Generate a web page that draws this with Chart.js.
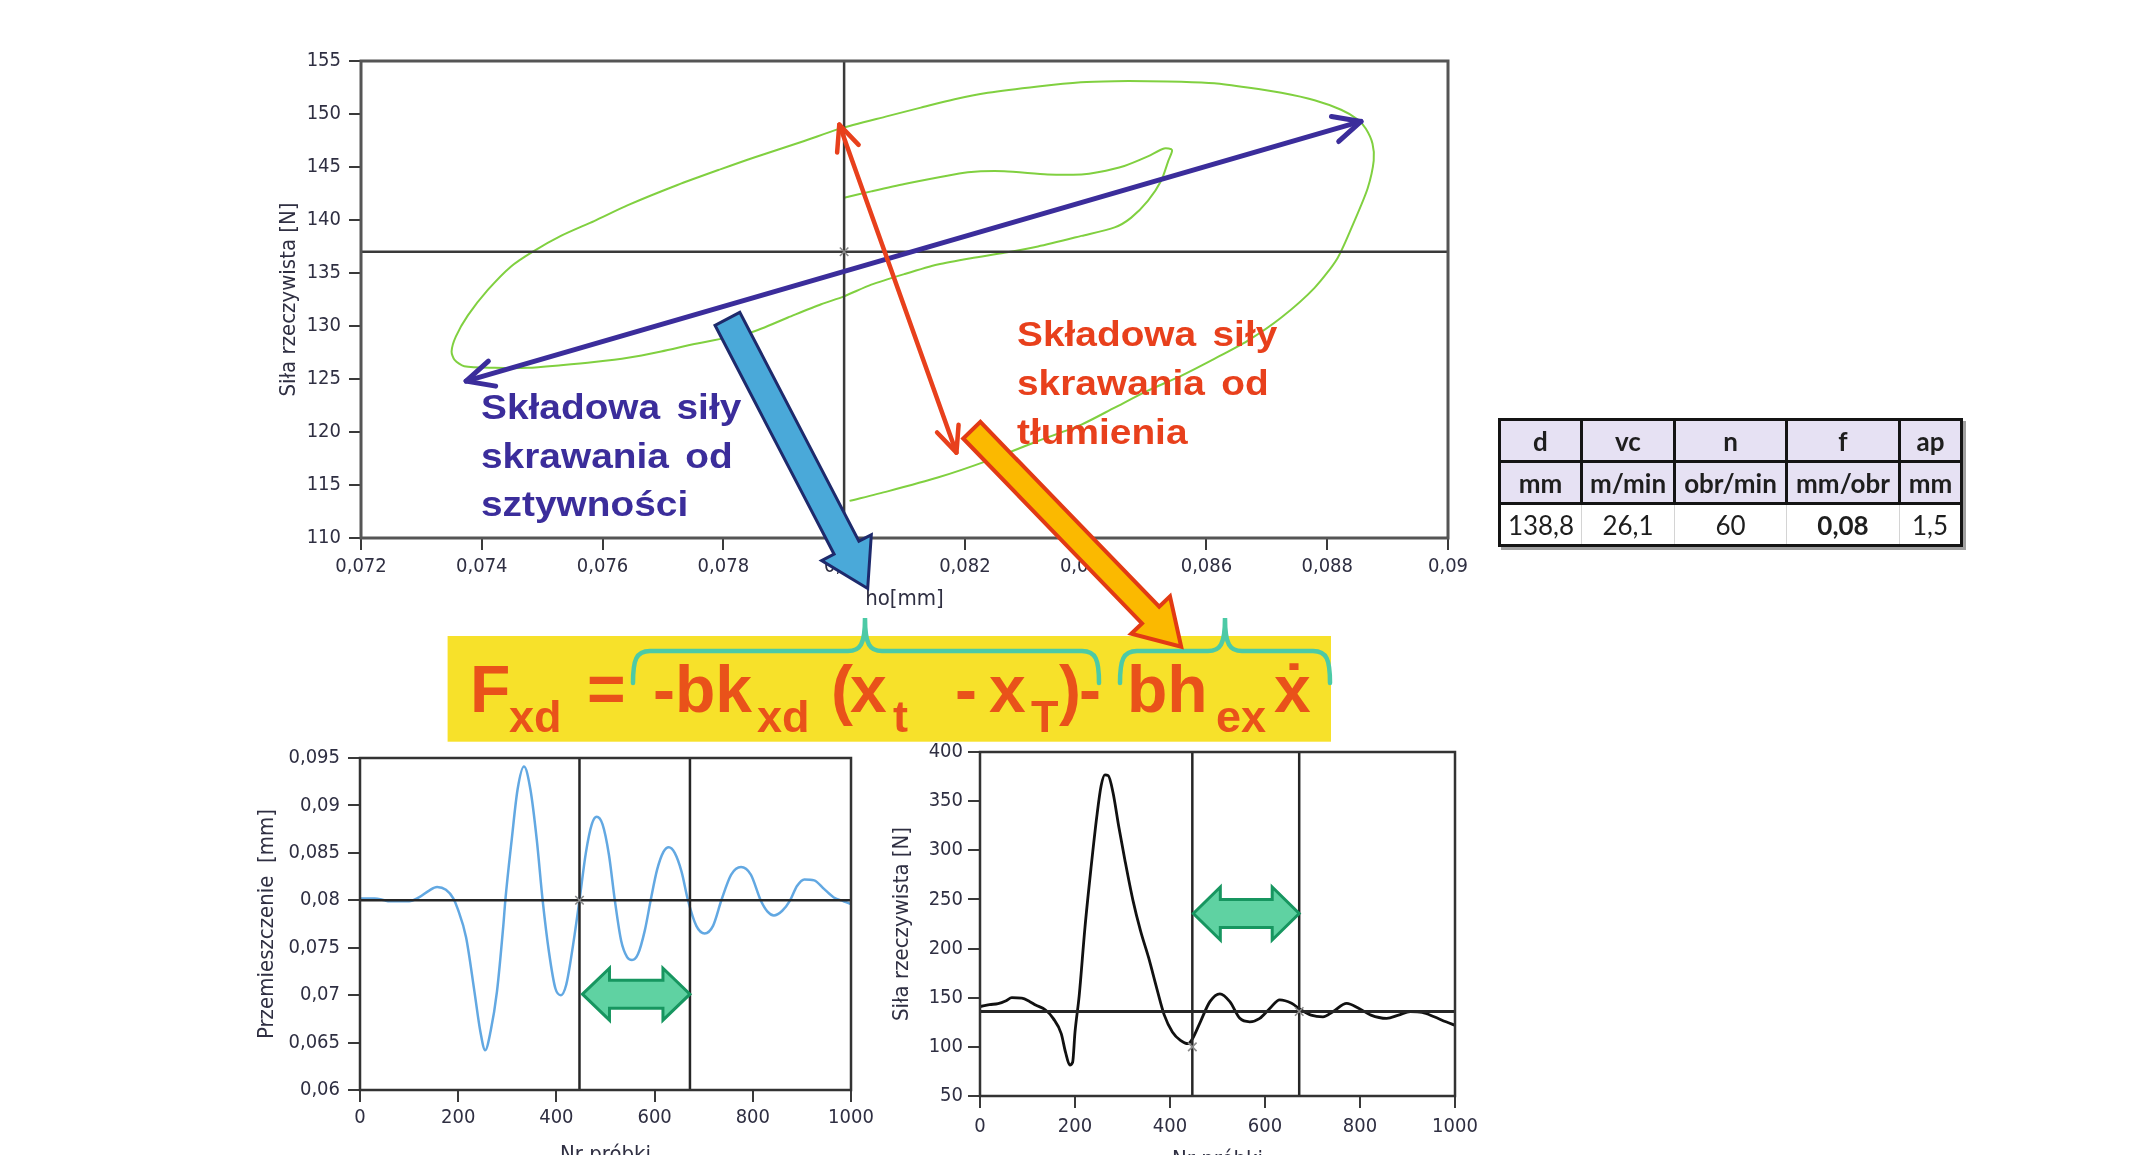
<!DOCTYPE html>
<html><head><meta charset="utf-8">
<script src="https://cdn.jsdelivr.net/npm/chart.js@4"></script>
<style>
html,body{margin:0;padding:0;background:#fff;}
body{width:2136px;height:1155px;overflow:hidden;position:relative;}
.cw{position:absolute;}
#overlay{position:absolute;left:0;top:0;z-index:5;pointer-events:none;}
#params{position:absolute;left:1498px;top:418px;width:462px;border-collapse:collapse;table-layout:fixed;
  font-family:Lato,'Open Sans',sans-serif;font-size:26px;color:#1e1e1e;box-shadow:3px 3px 0 #a0a0a0;}
#params tr{height:42px;}
#params td{padding:0;text-align:center;border:3px solid #141414;line-height:36px;}
#params tr.h td{background:#e6e1f3;font-weight:bold;}
#params tr.v td{background:#fff;border-left:1px solid #d4d4d4;border-right:1px solid #d4d4d4;}
#params tr.v td:first-child{border-left:3px solid #141414;}
#params tr.v td:last-child{border-right:3px solid #141414;}
</style></head>
<body>
<div class="cw" style="left:0;top:0;width:1500px;height:660px;"><canvas id="c1" width="1500" height="660"></canvas></div>
<div class="cw" style="left:0;top:730px;width:900px;height:460px;"><canvas id="c2" width="900" height="460"></canvas></div>
<div class="cw" style="left:800px;top:730px;width:700px;height:460px;"><canvas id="c3" width="700" height="460"></canvas></div>

<table id="params"><colgroup><col style="width:82px"><col style="width:93px"><col style="width:112px"><col style="width:113px"><col style="width:62px"></colgroup><tbody id="ptb"></tbody></table>

<svg id="overlay" width="2136" height="1155" viewBox="0 0 2136 1155" xmlns="http://www.w3.org/2000/svg">
  <g font-family="'Liberation Sans',Arial,sans-serif" font-weight="bold" font-size="35" word-spacing="5">
    <g fill="#3b2d9b">
      <text transform="translate(481,419) scale(1.11,1)">Składowa siły</text>
      <text transform="translate(481,467.7) scale(1.11,1)">skrawania od</text>
      <text transform="translate(481,516) scale(1.11,1)">sztywności</text>
    </g>
    <g fill="#e8401c">
      <text transform="translate(1017,346) scale(1.11,1)">Składowa siły</text>
      <text transform="translate(1017,394.5) scale(1.11,1)">skrawania od</text>
      <text transform="translate(1017,444) scale(1.11,1)">tłumienia</text>
    </g>
  </g>
  <rect x="447.6" y="636" width="883.4" height="105.7" fill="#f7e12a"/>
  <g fill="none" stroke="#4ccaa6" stroke-width="4.5" stroke-linecap="round">
    <path d="M633 683 C633 660 636 651 650 651 L848 651 C860 651 865 645 865 618 C865 645 870 651 882 651 L1082 651 C1096 651 1099 660 1099 683"/>
    <path d="M1120 683 C1120 660 1123 651 1137 651 L1208 651 C1220 651 1225 645 1225 618 C1225 645 1230 651 1242 651 L1313 651 C1327 651 1330 660 1330 683"/>
  </g>
  <g font-family="'Liberation Sans',Arial,sans-serif" font-weight="bold" fill="#e9521a">
    <g font-size="66">
      <text x="470" y="712">F</text>
      <text x="587" y="712">=</text>
      <text x="653" y="712">-bk</text>
      <text x="831" y="712">(</text>
      <text x="850" y="712">x</text>
      <text x="955" y="712">-</text>
      <text x="989" y="712">x</text>
      <text x="1059" y="712">)</text>
      <text x="1079" y="712">-</text>
      <text x="1127" y="712">bh</text>
      <text x="1274" y="712">x</text>
      <text x="1294" y="712" text-anchor="middle">˙</text>
    </g>
    <g font-size="45">
      <text x="509" y="732">xd</text>
      <text x="757" y="732">xd</text>
      <text x="893" y="732">t</text>
      <text x="1031" y="732">T</text>
      <text x="1216" y="732">ex</text>
    </g>
  </g>
  <polygon id="blueArrow" fill="#4aa9d9" stroke="#1e2a6c" stroke-width="3" stroke-linejoin="miter"/>
  <polygon id="orangeArrow" fill="#fbb900" stroke="#e23a14" stroke-width="4" stroke-linejoin="miter"/>
</svg>

<script>
// ---------------- data ----------------
// top chart: force vs displacement loop (between cursors)
const loopX = [0.08009,0.08072,0.08155,0.08238,0.08321,0.08393,0.08448,0.08503,0.08558,0.08613,0.08668,0.08724,0.08779,0.08817,0.08845,0.08867,0.08877,0.08875,0.08864,0.0885,0.08823,0.08779,0.08724,0.08668,0.08613,0.08558,0.08503,0.08448,0.08392,0.08321,0.08238,0.08183,0.08127,0.08072,0.07992,0.07934,0.07851,0.07796,0.07724,0.07642,0.07586,0.07531,0.07484,0.07448,0.0741,0.07377,0.07357,0.0735,0.07355,0.07371,0.07421,0.07476,0.07531,0.07586,0.07642,0.07697,0.07752,0.07846,0.07907,0.07962,0.08000,0.08045,0.081,0.08155,0.0821,0.08265,0.08321,0.08393,0.08448,0.08475,0.08503,0.08525,0.08537,0.08543,0.0853,0.08503,0.08464,0.0842,0.08393,0.08337,0.08265,0.08205,0.08155,0.081,0.08045,0.08000];
const loopY = [113.5,114.4,115.7,117.3,119.15,120.7,122.3,123.9,125.3,126.9,128.6,130.8,133.6,136.4,139.9,143.0,145.6,147.2,148.6,149.5,150.4,151.3,152.0,152.5,152.9,153.05,153.1,153.1,153.0,152.6,152.0,151.4,150.6,149.8,148.6,147.45,145.9,144.8,143.3,141.4,139.9,138.5,137.0,135.6,133.4,131.0,129.0,127.6,126.8,126.2,126.05,126.05,126.3,126.6,127.0,127.6,128.3,129.4,130.8,132.05,132.8,133.9,134.9,135.8,136.4,136.9,137.5,138.5,139.3,140.2,141.8,143.7,145.6,146.6,146.75,146.0,145.1,144.5,144.3,144.3,144.6,144.5,144.0,143.4,142.7,142.1];
const topCursor = [0.080, 137];
const stiffArrowX = [0.07374, 0.08856];
const stiffArrowY = [124.8, 149.3];
const dampArrowX = [0.07992, 0.08186];
const dampArrowY = [149.0, 118.05];

// bottom-left: displacement vs sample
const dispSamples = [0,30,50,60,100,120,140,157,175,190,199,216,233,245,255,266,279,292,296,309,321,334,347,360,372,385,398,409,420,434,447,460,472,482,494,507,519,532,544,554,566,580,592,605,618,629,641,655,668,685,702,719,736,756,776,796,816,830,843,860,876,890,905,925,945,965,985,1000];
const dispValues = [0.0802,0.0802,0.0800,0.0799,0.0799,0.0803,0.0810,0.0814,0.0811,0.0802,0.0791,0.0761,0.0704,0.0662,0.0642,0.0662,0.0704,0.0774,0.0800,0.0864,0.0917,0.0941,0.0917,0.0864,0.0800,0.0745,0.0707,0.0700,0.0711,0.0753,0.0800,0.0850,0.0880,0.0888,0.0880,0.0848,0.0800,0.0757,0.0740,0.0737,0.0743,0.0768,0.0800,0.0832,0.0851,0.0856,0.0850,0.0830,0.0800,0.0773,0.0765,0.0773,0.0800,0.0827,0.0835,0.0827,0.0800,0.0788,0.0784,0.0789,0.0800,0.0815,0.0822,0.0821,0.0812,0.0803,0.0799,0.0796];
const dispLevel = 0.080;
const dispArrowY = 0.0701;

// bottom-right: force vs sample
const forceSamples = [0,20,38,55,67,88,105,117,138,154,171,180,189,195,200,209,221,234,246,255,263,270,280,292,305,322,338,355,372,388,405,422,438,447,464,484,505,526,547,568,589,610,631,656,676,697,722,743,772,798,823,856,881,906,931,956,981,1000];
const forceValues = [141,143,144,147,150,149.5,146,142.6,137.5,129,113.5,94.6,81.5,84.3,115,152.9,221.6,283.3,334.8,365.7,376.7,376,358.8,324.5,290.2,249,218,190.7,159.8,132.3,115.2,106.6,103.2,108,125.5,146,154,146,129,125.5,129,139,147.8,144.3,137.5,132.3,130.6,135.8,144.3,139,132.3,129,132.3,135.8,135,130.6,125.5,122];
const forceLevel = 136;
const forceMarks = [[447,100],[672,136]];
const forceArrowY = 235.7;

const cursorSamples = [447, 672];

// ticks
const topXTicks = [0.072,0.074,0.076,0.078,0.080,0.082,0.084,0.086,0.088,0.090];
const topXTickLabels = ['0,072','0,074','0,076','0,078','0,08','0,082','0,084','0,086','0,088','0,09'];
const topYTicks = [110,115,120,125,130,135,140,145,150,155];
const topYTickLabels = ['110','115','120','125','130','135','140','145','150','155'];
const sampleTicks = [0,200,400,600,800,1000];
const sampleTickLabels = ['0','200','400','600','800','1000'];
const dispTicks = [0.060,0.065,0.070,0.075,0.080,0.085,0.090,0.095];
const dispTickLabels = ['0,06','0,065','0,07','0,075','0,08','0,085','0,09','0,095'];
const forceTicks = [50,100,150,200,250,300,350,400];
const forceTickLabels = ['50','100','150','200','250','300','350','400'];

// table
const tableHeaders = ['d','vc','n','f','ap'];
const tableUnits = ['mm','m/min','obr/min','mm/obr','mm'];
const tableValues = ['138,8','26,1','60','0,08','1,5'];
const tableBold = [false,false,false,true,false];

// ---------------- table ----------------
(function(){
  const tb = document.getElementById('ptb');
  const mk = (arr, cls, bold) => {
    const tr = document.createElement('tr'); tr.className = cls;
    arr.forEach((t,i) => { const td = document.createElement('td'); td.textContent = t;
      if (bold && bold[i]) td.style.fontWeight = 'bold'; tr.appendChild(td); });
    tb.appendChild(tr);
  };
  mk(tableHeaders,'h'); mk(tableUnits,'h'); mk(tableValues,'v',tableBold);
})();

// ---------------- block arrows (decoration) ----------------
function blockPts(x1,y1,x2,y2,sw,hw,hl){
  const L=Math.hypot(x2-x1,y2-y1), dx=(x2-x1)/L, dy=(y2-y1)/L, nx=-dy, ny=dx;
  const bx=x2-dx*hl, by=y2-dy*hl;
  const p=[[x1+nx*sw/2,y1+ny*sw/2],[bx+nx*sw/2,by+ny*sw/2],[bx+nx*hw/2,by+ny*hw/2],[x2,y2],
           [bx-nx*hw/2,by-ny*hw/2],[bx-nx*sw/2,by-ny*sw/2],[x1-nx*sw/2,y1-ny*sw/2]];
  return p.map(q=>q[0].toFixed(1)+','+q[1].toFixed(1)).join(' ');
}
document.getElementById('blueArrow').setAttribute('points', blockPts(727.4,318.8,867.7,588.5,28,56,46));
document.getElementById('orangeArrow').setAttribute('points', blockPts(971.8,430.2,1181.2,646.7,24,54,44));

// ---------------- charts ----------------
const FONT = "'DejaVu Sans Condensed','Noto Sans','DejaVu Sans',sans-serif";
const TICKC = '#2f2f42';

function xAxis(tv, tl, title, h, pad, tpad){
  return { type:'linear', position:'bottom', min:tv[0], max:tv[tv.length-1],
    afterBuildTicks: a => { a.ticks = tv.map(v => ({value:v})); },
    afterFit: a => { a.height = h; },
    ticks: { callback:(v,i)=>tl[i], autoSkip:false, maxRotation:0, padding:pad, color:TICKC, font:{family:FONT,size:20} },
    grid: { drawOnChartArea:false, drawTicks:true, tickLength:12, color:'#3a3a3a', lineWidth:2 },
    border: { display:false },
    title: { display:true, text:title, color:'#2f2f42', font:{family:FONT,size:22}, padding:{top:0,bottom:tpad} } };
}
function yAxis(tv, tl, title, w, pad, tpad){
  return { type:'linear', position:'left', min:tv[0], max:tv[tv.length-1],
    afterBuildTicks: a => { a.ticks = tv.map(v => ({value:v})); },
    afterFit: a => { a.width = w; },
    ticks: { callback:(v,i)=>tl[i], autoSkip:false, padding:pad, color:TICKC, font:{family:FONT,size:20} },
    grid: { drawOnChartArea:false, drawTicks:true, tickLength:12, color:'#3a3a3a', lineWidth:2 },
    border: { display:false },
    title: { display:true, text:title, color:'#2f2f42', font:{family:FONT,size:22}, padding:{top:tpad,bottom:0} } };
}
function chev(ctx,x1,y1,x2,y2,color,lw,hl,ang){
  ctx.save(); ctx.strokeStyle=color; ctx.lineWidth=lw; ctx.lineCap='round'; ctx.lineJoin='round';
  ctx.beginPath(); ctx.moveTo(x1,y1); ctx.lineTo(x2,y2); ctx.stroke();
  const head=(tx,ty,fx,fy)=>{ const a=Math.atan2(ty-fy,tx-fx); ctx.beginPath();
    ctx.moveTo(tx-hl*Math.cos(a-ang),ty-hl*Math.sin(a-ang)); ctx.lineTo(tx,ty);
    ctx.lineTo(tx-hl*Math.cos(a+ang),ty-hl*Math.sin(a+ang)); ctx.stroke(); };
  head(x2,y2,x1,y1); head(x1,y1,x2,y2); ctx.restore();
}
function dblBlock(ctx,x1,x2,yc,H,h,hl){
  ctx.save(); ctx.beginPath();
  ctx.moveTo(x1,yc); ctx.lineTo(x1+hl,yc-H/2); ctx.lineTo(x1+hl,yc-h/2); ctx.lineTo(x2-hl,yc-h/2);
  ctx.lineTo(x2-hl,yc-H/2); ctx.lineTo(x2,yc); ctx.lineTo(x2-hl,yc+H/2); ctx.lineTo(x2-hl,yc+h/2);
  ctx.lineTo(x1+hl,yc+h/2); ctx.lineTo(x1+hl,yc+H/2); ctx.closePath();
  ctx.fillStyle='#5fd2a2'; ctx.fill(); ctx.strokeStyle='#179660'; ctx.lineWidth=3; ctx.lineJoin='miter'; ctx.stroke();
  ctx.restore();
}
const boxPlugin = (color,lw) => ({ id:'box', afterDraw(chart){ const {ctx,chartArea:a}=chart;
  ctx.save(); ctx.strokeStyle=color; ctx.lineWidth=lw; ctx.strokeRect(a.left,a.top,a.right-a.left,a.bottom-a.top); ctx.restore(); } });
const lineDs = (pts,color,w,extra) => Object.assign({ data:pts, showLine:true, borderColor:color, borderWidth:w, pointRadius:0, fill:false }, extra||{});
const markDs = pts => ({ data:pts, showLine:false, pointStyle:'crossRot', pointRadius:6, borderColor:'#8a8a8a', borderWidth:1.6, backgroundColor:'transparent' });

Chart.defaults.font.family = FONT;

// --- top chart ---
const topDeco = { id:'topDeco', afterDatasetsDraw(chart){
  const {ctx, scales:{x,y}} = chart;
  chev(ctx, x.getPixelForValue(stiffArrowX[0]), y.getPixelForValue(stiffArrowY[0]), x.getPixelForValue(stiffArrowX[1]), y.getPixelForValue(stiffArrowY[1]), '#3b2d9b', 5, 30, 0.45);
  chev(ctx, x.getPixelForValue(dampArrowX[0]), y.getPixelForValue(dampArrowY[0]), x.getPixelForValue(dampArrowX[1]), y.getPixelForValue(dampArrowY[1]), '#e8401c', 4.5, 28, 0.42);
}};
new Chart(document.getElementById('c1'), {
  type:'scatter',
  data:{ datasets:[
    markDs([{x:topCursor[0], y:topCursor[1]}]),
    lineDs([{x:topCursor[0],y:topYTicks[0]},{x:topCursor[0],y:topYTicks[topYTicks.length-1]}], '#3a3a3a', 2.5),
    lineDs([{x:topXTicks[0],y:topCursor[1]},{x:topXTicks[topXTicks.length-1],y:topCursor[1]}], '#3a3a3a', 2.5),
    lineDs(loopX.map((v,i)=>({x:v,y:loopY[i]})), '#80d040', 2, {tension:0.25})
  ]},
  options:{ responsive:false, animation:false, events:[],
    layout:{ padding:{left:261,right:52,top:61,bottom:42} },
    plugins:{ legend:{display:false}, tooltip:{enabled:false} },
    scales:{ x: xAxis(topXTicks, topXTickLabels, 'ho[mm]', 80, 5, 5.8),
             y: yAxis(topYTicks, topYTickLabels, 'Siła rzeczywista [N]', 100, 8, 14.8) } },
  plugins:[topDeco, boxPlugin('#555',3)]
});

// --- bottom-left chart ---
const blDeco = { id:'blDeco', afterDatasetsDraw(chart){
  const {ctx, scales:{x,y}} = chart;
  dblBlock(ctx, x.getPixelForValue(cursorSamples[0])+3, x.getPixelForValue(cursorSamples[1]), y.getPixelForValue(dispArrowY), 52, 28, 27);
}};
new Chart(document.getElementById('c2'), {
  type:'scatter',
  data:{ datasets:[
    markDs([{x:cursorSamples[0], y:dispLevel}]),
    lineDs([{x:cursorSamples[0],y:dispTicks[0]},{x:cursorSamples[0],y:dispTicks[dispTicks.length-1]}], '#262626', 2.5),
    lineDs([{x:cursorSamples[1],y:dispTicks[0]},{x:cursorSamples[1],y:dispTicks[dispTicks.length-1]}], '#262626', 2.5),
    lineDs([{x:sampleTicks[0],y:dispLevel},{x:sampleTicks[sampleTicks.length-1],y:dispLevel}], '#262626', 2.5),
    lineDs(dispSamples.map((s,i)=>({x:s,y:dispValues[i]})), '#62a8e2', 2.5, {cubicInterpolationMode:'monotone'})
  ]},
  options:{ responsive:false, animation:false, events:[],
    layout:{ padding:{left:250,right:49,top:28,bottom:16} },
    plugins:{ legend:{display:false}, tooltip:{enabled:false} },
    scales:{ x: xAxis(sampleTicks, sampleTickLabels, 'Nr próbki', 84, 4, 5.8),
             y: yAxis(dispTicks, dispTickLabels, 'Przemieszczenie  [mm]', 110, 8, 3.8) } },
  plugins:[blDeco, boxPlugin('#333',2.5)]
});

// --- bottom-right chart ---
const brDeco = { id:'brDeco', afterDatasetsDraw(chart){
  const {ctx, scales:{x,y}} = chart;
  dblBlock(ctx, x.getPixelForValue(cursorSamples[0])+1, x.getPixelForValue(cursorSamples[1]), y.getPixelForValue(forceArrowY), 53, 28, 27);
}};
new Chart(document.getElementById('c3'), {
  type:'scatter',
  data:{ datasets:[
    markDs(forceMarks.map(m=>({x:m[0],y:m[1]}))),
    lineDs([{x:cursorSamples[0],y:forceTicks[0]},{x:cursorSamples[0],y:forceTicks[forceTicks.length-1]}], '#262626', 2.5),
    lineDs([{x:cursorSamples[1],y:forceTicks[0]},{x:cursorSamples[1],y:forceTicks[forceTicks.length-1]}], '#262626', 2.5),
    lineDs([{x:sampleTicks[0],y:forceLevel},{x:sampleTicks[sampleTicks.length-1],y:forceLevel}], '#262626', 3),
    lineDs(forceSamples.map((s,i)=>({x:s,y:forceValues[i]})), '#111', 2.8, {cubicInterpolationMode:'monotone'})
  ]},
  options:{ responsive:false, animation:false, events:[],
    layout:{ padding:{left:70,right:45,top:22,bottom:10} },
    plugins:{ legend:{display:false}, tooltip:{enabled:false} },
    scales:{ x: xAxis(sampleTicks, sampleTickLabels, 'Nr próbki', 84, 7, 6.8),
             y: yAxis(forceTicks, forceTickLabels, 'Siła rzeczywista [N]', 110, 5, 18.8) } },
  plugins:[brDeco, boxPlugin('#333',2.5)]
});
</script>
</body></html>
